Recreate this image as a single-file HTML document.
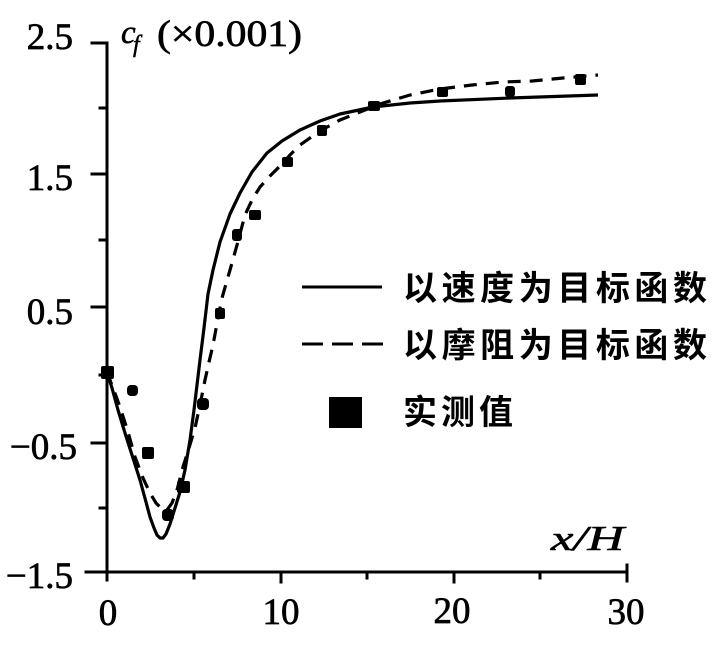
<!DOCTYPE html>
<html><head><meta charset="utf-8"><style>
html,body{margin:0;padding:0;background:#fff;}
svg{display:block;}
.t{font-family:"Liberation Serif",serif;font-size:37px;fill:#000;stroke:#000;stroke-width:0.7px;}
.c{font-family:"Liberation Sans","Noto Sans CJK SC",sans-serif;font-size:34px;font-weight:700;fill:#000;}
</style></head><body>
<svg width="723" height="648" viewBox="0 0 723 648" xmlns="http://www.w3.org/2000/svg">
<rect width="723" height="648" fill="#fff"/>
<g stroke="#000" stroke-width="3" fill="none" stroke-linecap="square">
<line x1="107" y1="43" x2="107" y2="580"/>
<line x1="86" y1="572" x2="627" y2="572"/>
<line x1="92" y1="43" x2="107" y2="43"/>
<line x1="92" y1="174" x2="107" y2="174"/>
<line x1="92" y1="307" x2="107" y2="307"/>
<line x1="92" y1="443" x2="107" y2="443"/>
<line x1="100" y1="108" x2="107" y2="108"/>
<line x1="100" y1="240" x2="107" y2="240"/>
<line x1="100" y1="375" x2="107" y2="375"/>
<line x1="100" y1="508" x2="107" y2="508"/>
<line x1="281" y1="572" x2="281" y2="582"/>
<line x1="454" y1="572" x2="454" y2="582"/>
<line x1="627" y1="565" x2="627" y2="581"/>
<line x1="194" y1="572" x2="194" y2="578"/>
<line x1="367" y1="572" x2="367" y2="578"/>
<line x1="540" y1="572" x2="540" y2="578"/>
</g>
<g class="t" text-anchor="end">
<text x="73" y="49">2.5</text>
<text x="73" y="190">1.5</text>
<text x="73" y="324">0.5</text>
<text x="77" y="459">−0.5</text>
<text x="73" y="588">−1.5</text>
</g>
<g class="t" text-anchor="middle">
<text x="108" y="625">0</text>
<text x="281" y="624">10</text>
<text x="452" y="623">20</text>
<text x="626" y="624">30</text>
</g>
<text x="121" y="43" style="font-family:'Liberation Serif',serif;font-style:italic;font-size:33px;stroke:#000;stroke-width:0.6px;">c</text>
<text x="133" y="52" style="font-family:'Liberation Serif',serif;font-style:italic;font-size:24px;stroke:#000;stroke-width:0.5px;">f</text>
<text x="157" y="46" class="t" textLength="145" lengthAdjust="spacingAndGlyphs">(×0.001)</text>
<text x="551" y="550" style="font-family:'Liberation Serif',serif;font-style:italic;font-size:35px;stroke:#000;stroke-width:0.6px;" textLength="73" lengthAdjust="spacingAndGlyphs">x/H</text>
<polyline fill="none" stroke="#000" stroke-width="3.2" stroke-linejoin="round" points="107,372 112,388 118,410 125,433 132,455 140,480 146,502 150,517 154,528 157,535 160,538 163,538 166,534 170,524 175,508 180,492 185,470 190,440 194,410 197,385 200,360 204,328 208,294 213,270 220,242 230,214 240,193 252,172 267,153 282,141 300,130 320,121 340,114 373,107 410,103 440,101 510,98 598,95"/>
<polyline fill="none" stroke="#000" stroke-width="3.2" stroke-dasharray="13 9" points="107,372 113,388 120,407 128,432 135,457 143,478 150,493 156,503 162,509 167,510 172,503 177,490 183,467 189,448 195,428 200,405 205,380 209,362 213,345 218,318 222,298 230,270 237,245 245,215 252,200 260,187 270,176 280,166 290,155 300,145 320,131 340,120 360,112 380,104 410,95 440,89 472,85 503,82 532,81 563,78 598,75"/>
<g fill="#000">
<rect x="101" y="366" width="13" height="13" rx="2"/>
<rect x="127" y="385" width="11" height="11" rx="4"/>
<rect x="142" y="447" width="12" height="12" rx="2"/>
<rect x="162" y="509" width="12" height="12" rx="4"/>
<rect x="177" y="481" width="13" height="12" rx="2"/>
<rect x="197" y="398" width="12" height="12" rx="4"/>
<rect x="215" y="308" width="10" height="11" rx="2"/>
<rect x="232" y="229" width="10" height="12" rx="3"/>
<rect x="249" y="210" width="12" height="10" rx="2"/>
<rect x="282" y="157" width="11" height="10" rx="2"/>
<rect x="317" y="125" width="10" height="11" rx="2"/>
<rect x="368" y="101" width="12" height="10" rx="2"/>
<rect x="437" y="87" width="11" height="10" rx="2"/>
<rect x="505" y="86" width="10" height="11" rx="3"/>
<rect x="575" y="74" width="11" height="11" rx="2"/>
</g>
<line x1="302" y1="287" x2="382" y2="287" stroke="#000" stroke-width="3"/>
<line x1="302" y1="344" x2="384" y2="344" stroke="#000" stroke-width="3" stroke-dasharray="21 9"/>
<rect x="329" y="397" width="33" height="31" fill="#000"/>
<text x="403" y="300" class="c" textLength="304" lengthAdjust="spacing">以速度为目标函数</text>
<text x="403" y="357" class="c" textLength="304" lengthAdjust="spacing">以摩阻为目标函数</text>
<text x="403" y="424" class="c" textLength="110" lengthAdjust="spacing">实测值</text>
</svg>
</body></html>
